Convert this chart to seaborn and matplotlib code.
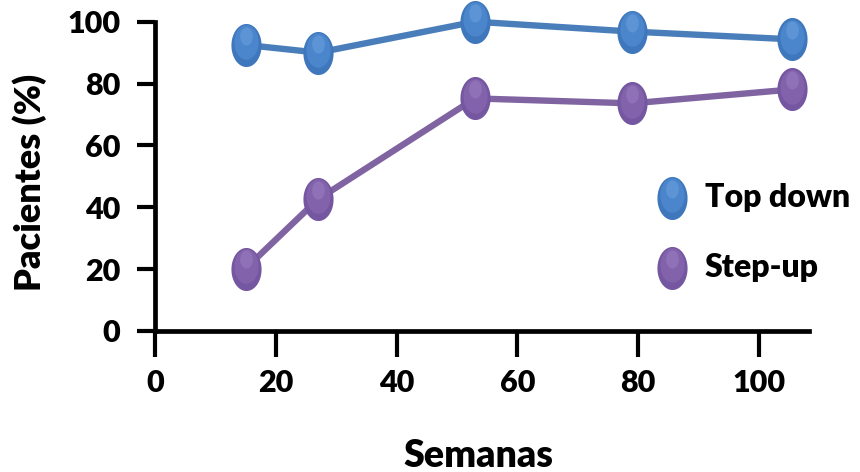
import numpy as np
import pandas as pd
import matplotlib
matplotlib.use("Agg")
import matplotlib.pyplot as plt
import matplotlib.transforms as mtransforms
from matplotlib.path import Path
from matplotlib.lines import Line2D
import seaborn as sns

# Data
semanas = [15, 27, 53, 79, 105.5]
top_down = [92.5, 90.0, 100.0, 96.8, 94.3]
step_up = [20.2, 42.6, 75.2, 73.6, 78.1]
grupos = ["Top down", "Step-up"]
x_ticks = [0, 20, 40, 60, 80, 100]
y_ticks = [0, 20, 40, 60, 80, 100]

sns.set_theme(style="white")
plt.rcParams["font.family"] = ["Lato", "DejaVu Sans"]
plt.rcParams["font.weight"] = "heavy"

df = pd.DataFrame({
    "Semanas": semanas + semanas,
    "Pacientes": top_down + step_up,
    "Grupo": [grupos[0]] * len(semanas) + [grupos[1]] * len(semanas),
})

line_colors = {"Top down": "#4A7EBB", "Step-up": "#8064A2"}
base_colors = {"Top down": "#3E77BC", "Step-up": "#7556A0"}
mid_colors = {"Top down": "#4E89CF", "Step-up": "#8465AE"}
glow_colors = {"Top down": "#7FB0E8", "Step-up": "#A98ECF"}

# tall ellipse marker
theta = np.linspace(0, 2 * np.pi, 80)
ellipse = Path(np.column_stack([0.70 * np.cos(theta), np.sin(theta)]), closed=True)

fig = plt.figure(figsize=(8.6, 4.72), dpi=100)
ax = fig.add_axes([155 / 860, 141 / 472, 654 / 860, 309.3 / 472])

sns.lineplot(data=df, x="Semanas", y="Pacientes", hue="Grupo", palette=line_colors,
             linewidth=4.6, legend=False, ax=ax, clip_on=False, zorder=3)

up_small = mtransforms.offset_copy(ax.transData, fig=fig, x=0, y=2.0, units="points")
up_big = mtransforms.offset_copy(ax.transData, fig=fig, x=0, y=6.5, units="points")


def shaded_marker(axis, xs, ys, g, size, trans_small, trans_big):
    axis.plot(xs, ys, ls="none", marker=ellipse, markersize=size,
              color=base_colors[g], markeredgewidth=0, clip_on=False, zorder=4)
    axis.plot(xs, ys, ls="none", marker=ellipse, markersize=size * 0.8,
              color=mid_colors[g], markeredgewidth=0, clip_on=False, zorder=5, alpha=0.85,
              transform=trans_small)
    axis.plot(xs, ys, ls="none", marker=ellipse, markersize=size * 0.42,
              color=glow_colors[g], markeredgewidth=0, clip_on=False, zorder=6, alpha=0.35,
              transform=trans_big)


for g in grupos:
    sub = df[df["Grupo"] == g]
    shaded_marker(ax, sub["Semanas"], sub["Pacientes"], g, 31, up_small, up_big)

ax.set_xlim(0, 108.3)
ax.set_ylim(0, 100)
ax.set_xticks(x_ticks)
ax.set_yticks(y_ticks)
ax.set_xticklabels([str(t) for t in x_ticks])
ax.set_yticklabels([str(t) for t in y_ticks])

for side in ["top", "right"]:
    ax.spines[side].set_visible(False)
for side in ["left", "bottom"]:
    ax.spines[side].set_linewidth(3.4)
    ax.spines[side].set_color("black")

ax.tick_params(axis="x", direction="out", length=19, width=3, color="black",
               labelsize=22, pad=8, bottom=True)
ax.tick_params(axis="y", direction="out", length=13, width=3, color="black",
               labelsize=22, pad=12, left=True)
for lab in ax.get_xticklabels() + ax.get_yticklabels():
    lab.set_fontweight("heavy")
    lab.set_color("black")

ax.set_xlabel("Semanas", fontsize=27, fontweight="heavy", color="black")
ax.set_ylabel("Pacientes (%)", fontsize=26, fontweight="heavy", color="black")
ax.xaxis.set_label_coords(0.495, -0.35)
ax.yaxis.set_label_coords(-0.165, 0.48)

# legend entries drawn as figure-level markers and labels
leg_x_marker = 672 / 860
leg_x_text = 705 / 860
leg_rows = [1 - 198 / 472, 1 - 268 / 472]
fig_small = mtransforms.offset_copy(fig.transFigure, fig=fig, x=0, y=2.0, units="points")
fig_big = mtransforms.offset_copy(fig.transFigure, fig=fig, x=0, y=6.5, units="points")
for g, yrow in zip(grupos, leg_rows):
    fig.lines.append(Line2D([leg_x_marker], [yrow], ls="none", marker=ellipse, markersize=31,
                            color=base_colors[g], markeredgewidth=0,
                            transform=fig.transFigure, figure=fig, zorder=4))
    fig.lines.append(Line2D([leg_x_marker], [yrow], ls="none", marker=ellipse, markersize=31 * 0.8,
                            color=mid_colors[g], markeredgewidth=0, alpha=0.85,
                            transform=fig_small, figure=fig, zorder=5))
    fig.lines.append(Line2D([leg_x_marker], [yrow], ls="none", marker=ellipse, markersize=31 * 0.42,
                            color=glow_colors[g], markeredgewidth=0, alpha=0.35,
                            transform=fig_big, figure=fig, zorder=6))
    fig.text(leg_x_text, yrow, g, fontsize=23, fontweight="heavy", color="black",
             ha="left", va="center")

fig.savefig("out.png", dpi=100, facecolor="white")
